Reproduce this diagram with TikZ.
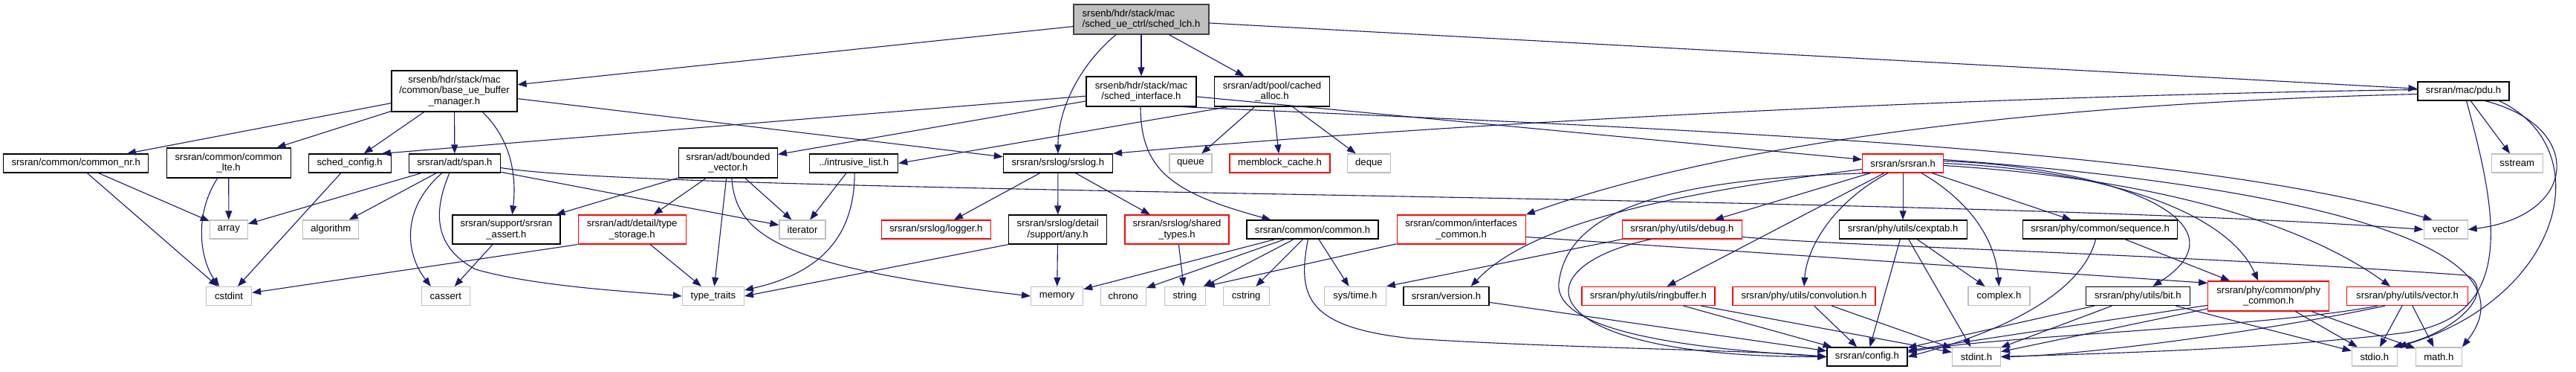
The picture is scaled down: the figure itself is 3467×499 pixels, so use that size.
\documentclass[tikz,border=0pt]{standalone}
\usepackage{fontspec}
\setmainfont{Liberation Sans}
\usetikzlibrary{arrows.meta,calc}
\definecolor{edgec}{HTML}{191970}
\definecolor{gsev}{HTML}{BFBFBF}
\definecolor{gfor}{HTML}{404040}
\newcommand\fs{\fontsize{13.1}{14.5}\selectfont}
\newcommand\bx[6]{\node[#1,minimum width=#4pt,minimum height=#5pt] (#2) at (#3) {#6};}
\tikzset{
 nb/.style={draw=black, line width=1.2pt, inner sep=0pt, align=center, font=\fs, text=black},
 nr/.style={nb, draw=red},
 ng/.style={nb, draw=gsev},
 dep/.style={draw=edgec, line width=1.1pt, -{Triangle[length=12pt,width=9pt]}},
}
\begin{document}
\begin{tikzpicture}[x=1pt,y=-1pt]
\fill[white] (0,0) rectangle (3467,499);
\useasboundingbox (0,0) rectangle (3467,499);
% rank 0/1
\bx{nb,fill=gsev,draw=gfor,align=left}{root}{1536,26}{182}{40}{srsenb/hdr/stack/mac\\/sched\_ue\_ctrl/sched\_lch.h}
\bx{nb}{base}{611.5,122.5}{169}{55}{srsenb/hdr/stack/mac\\/common/base\_ue\_buffer\\\_manager.h}
\bx{nb}{sint}{1536,123}{148}{40}{srsenb/hdr/stack/mac\\/sched\_interface.h}
\bx{nb}{cached}{1712,123}{155}{40}{srsran/adt/pool/cached\\\_alloc.h}
\bx{nb}{pdu}{3315.5,122.5}{123}{25}{srsran/mac/pdu.h}
% rank 2
\bx{nb}{cnr}{102.2,219.5}{195}{25}{srsran/common/common\_nr.h}
\bx{nb}{clte}{307.7,219}{167}{40}{srsran/common/common\\\_lte.h}
\bx{nb}{schedcfg}{470.7,219.5}{111}{25}{sched\_config.h}
\bx{nb}{span}{611.9,219.5}{123}{25}{srsran/adt/span.h}
\bx{nb}{bounded}{979.9,219}{133}{40}{srsran/adt/bounded\\\_vector.h}
\bx{nb}{intrusive}{1149.2,219.5}{119}{25}{../intrusive\_list.h}
\bx{nb}{srslog}{1423.9,219.5}{147}{25}{srsran/srslog/srslog.h}
\bx{ng}{queue}{1602.4,219.5}{57}{25}{queue}
\bx{nr}{memblock}{1722.5,219.5}{135}{25}{memblock\_cache.h}
\bx{ng}{deque}{1842.4,219.5}{58}{25}{deque}
\bx{nr}{srsranh}{2561.1,219.5}{109}{25}{srsran/srsran.h}
\bx{ng}{sstream}{3387.7,219.5}{69}{25}{sstream}
% rank 3
\bx{ng}{array}{307.9,308.5}{51}{25}{array}
\bx{ng}{algorithm}{445.3,308.5}{75}{25}{algorithm}
\bx{nb}{sassert}{681.4,308.5}{145}{39}{srsran/support/srsran\\\_assert.h}
\bx{nr}{tstorage}{850.6,308.5}{145}{39}{srsran/adt/detail/type\\\_storage.h}
\bx{ng}{iterator}{1080,308.5}{62}{25}{iterator}
\bx{nr}{logger}{1259.9,308.5}{147}{25}{srsran/srslog/logger.h}
\bx{nb}{any}{1423.7,308.5}{132}{39}{srsran/srslog/detail\\/support/any.h}
\bx{nr}{stypes}{1584,308.5}{140}{39}{srsran/srslog/shared\\\_types.h}
\bx{nb}{commonh}{1766.5,308.5}{177}{25}{srsran/common/common.h}
\bx{nr}{ifc}{1966.6,308.5}{173}{39}{srsran/common/interfaces\\\_common.h}
\bx{nr}{debug}{2263.9,308.5}{161}{25}{srsran/phy/utils/debug.h}
\bx{nb}{cexptab}{2561.1,308.5}{172}{25}{srsran/phy/utils/cexptab.h}
\bx{nb}{sequence}{2826.6,308.5}{208}{25}{srsran/phy/common/sequence.h}
\bx{ng}{vector}{3291.6,308.5}{59}{25}{vector}
% rank 4
\bx{ng}{cstdint}{308.1,398}{61}{25}{cstdint}
\bx{ng}{cassert}{599.8,398}{65}{25}{cassert}
\bx{ng}{ttraits}{959.9,398}{83}{25}{type\_traits}
\bx{ng}{memory}{1422.6,398}{70}{25}{memory}
\bx{ng}{chrono}{1511.7,398}{61}{25}{chrono}
\bx{ng}{string}{1594.6,398}{55}{25}{string}
\bx{ng}{cstring}{1677.2,398}{62}{25}{cstring}
\bx{ng}{systime}{1823.8,398}{83}{25}{sys/time.h}
\bx{nb}{version}{1946.5,398}{115}{25}{srsran/version.h}
\bx{nr}{ringbuf}{2218.4,398}{179}{25}{srsran/phy/utils/ringbuffer.h}
\bx{nr}{conv}{2428,398}{192}{25}{srsran/phy/utils/convolution.h}
\bx{ng}{complex}{2690.5,398}{83}{25}{complex.h}
\bx{nb}{bit}{2877.3,398}{140}{25}{srsran/phy/utils/bit.h}
\bx{nr}{phyc}{3053.2,398}{163}{40}{srsran/phy/common/phy\\\_common.h}
\bx{nr}{vech}{3240,398}{163}{25}{srsran/phy/utils/vector.h}
% rank 5
\bx{nb}{config}{2512.9,479.5}{108}{25}{srsran/config.h}
\bx{ng}{stdint}{2659.9,479.5}{65}{25}{stdint.h}
\bx{ng}{stdio}{3195.8,479.5}{61}{25}{stdio.h}
\bx{ng}{math}{3282.3,479.5}{62}{25}{math.h}
% ---------- edges ----------
% root
\draw[dep] (root) -- (base);
\draw[dep] (root) -- (sint);
\draw[dep] (root) -- (cached);
\draw[dep] ($(root.south)+(-34,0)$) .. controls (1450,90) and (1424,150) .. (srslog.north);
\draw[dep] (root) -- (pdu);
% base
\draw[dep] (base) -- (cnr);
\draw[dep] (base) -- (clte);
\draw[dep] (base) -- (schedcfg);
\draw[dep] (base) -- (span);
\draw[dep] ($(base.south)+(38,0)$) .. controls (690,190) and (695,240) .. ($(sassert.north)+(8,0)$);
\draw[dep] (base) -- (srslog);
% common nr / lte / sched_config
\draw[dep] (cnr) -- (array);
\draw[dep] (cnr) -- (cstdint);
\draw[dep] (clte) -- (array);
\draw[dep] ($(clte.south)+(-15,0)$) .. controls (260,290) and (270,350) .. ($(cstdint.north)+(-13,0)$);
\draw[dep] (schedcfg) -- (cstdint);
% span
\draw[dep] (span) -- (array);
\draw[dep] (span) -- (algorithm);
\draw[dep] ($(span.south)+(-17,0)$) .. controls (540,280) and (545,340) .. ($(cassert.north)+(-20,0)$);
\draw[dep] ($(span.south)+(-7,0)$) .. controls (585,280) and (580,330) .. (640,362) .. controls (720,385) and (850,392) .. (ttraits.west);
\draw[dep] (span) -- (iterator);
\draw[dep] ($(span.east)+(0,6)$) .. controls (900,262) and (2600,260) .. (vector.west);
% assert / storage / bounded / intrusive
\draw[dep] (sassert) -- (cassert);
\draw[dep] (tstorage.south west) -- (cstdint);
\draw[dep] (tstorage) -- (ttraits);
\draw[dep] (bounded) -- (sassert);
\draw[dep] (bounded) -- (tstorage);
\draw[dep] (bounded) -- (ttraits);
\draw[dep] (bounded) -- (iterator);
\draw[dep] ($(bounded.south)+(5,0)$) .. controls (990,320) and (1060,360) .. (memory.west);
\draw[dep] (intrusive) -- (iterator);
\draw[dep] ($(intrusive.south)+(1,0)$) .. controls (1150,330) and (1090,370) .. ($(ttraits.east)+(0,-8)$);
% sched_interface
\draw[dep] (sint) -- ($(schedcfg.north east)+(-13,0)$);
\draw[dep] (sint) -- (bounded);
\draw[dep] ($(sint.south)+(-1,0)$) .. controls (1535,230) and (1580,260) .. ($(commonh.north west)+(33,0)$);
\draw[dep] (sint) -- (srsranh);
\draw[dep] ($(sint.south east)+(-20,0)$) .. controls (2300,175) and (2950,200) .. ($(vector.north west)+(12,0)$);
% cached alloc
\draw[dep] ($(cached.south west)+(19,0)$) -- (intrusive.east);
\draw[dep] (cached) -- (queue);
\draw[dep] (cached) -- (memblock);
\draw[dep] (cached) -- (deque);
% srslog
\draw[dep] (srslog) -- (logger);
\draw[dep] (srslog) -- (any);
\draw[dep] (srslog) -- (stypes);
\draw[dep] (any) -- (memory);
\draw[dep] (any.south west) -- (ttraits.east);
\draw[dep] (stypes) -- (string);
% common.h
\draw[dep] (commonh) -- (memory);
\draw[dep] (commonh) -- (chrono);
\draw[dep] (commonh) -- (string);
\draw[dep] (commonh) -- (cstring);
\draw[dep] (commonh) -- (systime);
\draw[dep] ($(commonh.south)+(-6,0)$) .. controls (1745,400) and (1760,440) .. (1900,455) .. controls (2100,468) and (2350,470) .. (config.west);
% interfaces
\draw[dep] (ifc) -- (string.north east);
\draw[dep] ($(ifc.east)+(0,10)$) -- ($(phyc.north west)+(0,3)$);
% pdu
\draw[dep] ($(pdu.west)+(0,-2)$) .. controls (2600,130) and (1900,170) .. (srslog.north east);
\draw[dep] ($(pdu.west)+(0,4)$) .. controls (2700,140) and (2300,200) .. (ifc.north east);
\draw[dep] (pdu) -- (sstream);
\draw[dep] ($(pdu.south)+(29,0)$) .. controls (3480,170) and (3470,290) .. (vector.east);
\draw[dep] ($(pdu.south)+(4,0)$) .. controls (3365,300) and (3385,430) .. (3230,448) .. controls (3050,470) and (2800,476) .. (stdint.east);
\draw[dep] ($(pdu.south east)+(-14,0)$) .. controls (3500,200) and (3450,400) .. (stdio.north east);
% srsran.h
\draw[dep] ($(srsranh.south west)+(10,0)$) .. controls (2250,240) and (2110,280) .. (2098,380) .. controls (2090,450) and (2300,470) .. (config.west);
\draw[dep] ($(srsranh.west)+(0,8)$) .. controls (2250,260) and (2060,300) .. ($(version.north east)+(-25,0)$);
\draw[dep] (srsranh) -- (debug);
\draw[dep] (srsranh) -- (cexptab);
\draw[dep] (srsranh) -- (ringbuf);
\draw[dep] ($(srsranh.south)+(-20,0)$) .. controls (2470,270) and (2432,330) .. (conv.north);
\draw[dep] ($(srsranh.south)+(25,0)$) .. controls (2650,270) and (2685,320) .. (complex.north);
\draw[dep] (srsranh) -- (sequence);
\draw[dep] ($(srsranh.east)+(0,-3)$) .. controls (2850,225) and (3030,300) .. ($(bit.north)+(20,0)$);
\draw[dep] (srsranh.east) .. controls (2850,230) and (3000,290) .. ($(phyc.north)+(-14,0)$);
\draw[dep] ($(srsranh.east)+(0,3)$) .. controls (2900,240) and (3100,300) .. ($(vech.north)+(-23,0)$);
\draw[dep] ($(srsranh.east)+(0,-5)$) .. controls (3100,250) and (3420,330) .. (math.north east);
% debug
\draw[dep] (debug.south west) -- (systime.north east);
\draw[dep] ($(debug.south)+(-42,0)$) .. controls (2040,360) and (2060,480) .. (config.west);
\draw[dep] ($(debug.east)+(0,10)$) .. controls (2500,332) and (2900,340) .. (3320,370) .. controls (3360,390) and (3310,445) .. ($(stdio.north east)+(-6,0)$);
% lower level
\draw[dep] (version) -- (config);
\draw[dep] (ringbuf) -- (config);
\draw[dep] (ringbuf) -- (stdint);
\draw[dep] (conv) -- (config);
\draw[dep] (conv) -- (stdint);
\draw[dep] (cexptab) -- (config);
\draw[dep] (cexptab) -- (stdint);
\draw[dep] (cexptab) -- (complex);
\draw[dep] ($(sequence.south)+(-6,0)$) .. controls (2800,400) and (2680,450) .. (config.east);
\draw[dep] (sequence) -- (phyc);
\draw[dep] (bit) -- (config);
\draw[dep] (bit) -- (stdint);
\draw[dep] (bit) -- (stdio);
\draw[dep] (phyc) -- (config);
\draw[dep] (phyc) -- (stdint);
\draw[dep] (phyc) -- (stdio);
\draw[dep] (phyc) -- (math);
\draw[dep] ($(vech.south)+(-40,0)$) .. controls (3050,440) and (2680,452) .. ($(config.east)+(0,-6)$);
\draw[dep] ($(vech.south)+(-30,0)$) .. controls (3050,445) and (2800,478) .. (stdint.east);
\draw[dep] (vech) -- (stdio);
\draw[dep] (vech) -- (math);
\end{tikzpicture}
\end{document}
